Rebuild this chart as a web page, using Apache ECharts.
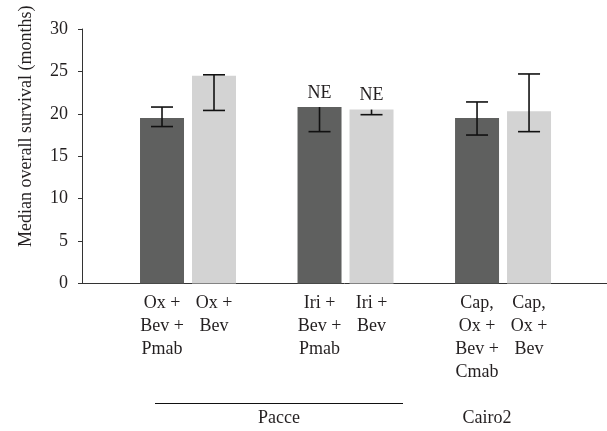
<!DOCTYPE html>
<html>
<head>
<meta charset="utf-8">
<script src="https://cdn.jsdelivr.net/npm/echarts@6/dist/echarts.min.js"></script>
<style>
html,body{margin:0;padding:0;background:#fff;}
#chart{width:607px;height:431px;}
</style>
</head>
<body>
<div id="chart"></div>
<script>
// ---- data ----
const pairIndex = [0, 1, 2];
const labelsA = ['Ox +\nBev +\nPmab', 'Iri +\nBev +\nPmab', 'Cap,\nOx +\nBev +\nCmab'];
const labelsB = ['Ox +\nBev', 'Iri +\nBev', 'Cap,\nOx +\nBev'];
const medianA = [19.5, 20.8, 19.5];
const medianB = [24.5, 20.5, 20.3];
const lowerA = [18.5, 17.9, 17.5];
const upperA = [20.8, null, 21.4];
const lowerB = [20.4, 19.9, 17.9];
const upperB = [24.6, null, 24.7];
const notEstimableText = 'NE';
const groupNames = ['Pacce', 'Cairo2'];
const yAxisTitle = 'Median overall survival (months)';

// ---- style ----
const FONT = 'Liberation Serif';
const FS = 18;
const TXT = '#231f20';
const DARK = '#5f605f';
const LIGHT = '#d3d3d3';
const BAR_W = 44;
const GAP_PX = 8;

function errSeries(lower, upper, median, sign) {
  return {
    type: 'custom',
    z: 5,
    clip: false,
    data: pairIndex.map((x, i) => [x, lower[i], upper[i] == null ? '-' : upper[i], median[i]]),
    encode: { x: 0, y: [1, 2] },
    renderItem: function (params, api) {
      const x = api.value(0);
      const lo = api.value(1);
      const hi = api.value(2);
      const med = api.value(3);
      const off = sign * (BAR_W + GAP_PX) / 2;
      const pLo = api.coord([x, lo]);
      const cx = pLo[0] + off;
      const hasHi = !(hi == null || isNaN(hi));
      const yTop = hasHi ? api.coord([x, hi])[1] : api.coord([x, med])[1];
      const cap = 11;
      const st = { stroke: '#111', lineWidth: 1.6 };
      const children = [
        { type: 'line', shape: { x1: cx, y1: yTop, x2: cx, y2: pLo[1] }, style: st },
        { type: 'line', shape: { x1: cx - cap, y1: pLo[1], x2: cx + cap, y2: pLo[1] }, style: st }
      ];
      if (hasHi) {
        children.push({ type: 'line', shape: { x1: cx - cap, y1: yTop, x2: cx + cap, y2: yTop }, style: st });
      } else {
        children.push({ type: 'text', style: { text: notEstimableText, x: cx, y: yTop - 5, align: 'center', verticalAlign: 'bottom', font: FS + 'px ' + FONT, fill: TXT } });
      }
      return { type: 'group', children: children };
    }
  };
}

const chart = echarts.init(document.getElementById('chart'));
chart.setOption({
  animation: false,
  backgroundColor: '#fff',
  grid: { left: 82, right: 0, top: 29, bottom: 147.5, containLabel: false },
  xAxis: {
    type: 'value', min: -0.673, max: 2.66,
    axisLine: { show: true, onZero: false, lineStyle: { color: '#333', width: 1 } },
    axisTick: { show: false }, axisLabel: { show: false }, splitLine: { show: false }
  },
  yAxis: {
    type: 'value', min: 0, max: 30, interval: 5,
    name: yAxisTitle, nameLocation: 'middle', nameRotate: 90, nameGap: 47,
    nameTextStyle: { fontFamily: FONT, fontSize: FS, color: TXT, padding: [0, 0, 0, 60] },
    axisLine: { show: true, onZero: false, lineStyle: { color: '#333', width: 1 } },
    axisTick: { show: true, length: 4, lineStyle: { color: '#333' } },
    axisLabel: { fontFamily: FONT, fontSize: FS, color: TXT, margin: 14 },
    splitLine: { show: false }
  },
  series: [
    {
      type: 'bar', barWidth: BAR_W, barGap: (GAP_PX / BAR_W * 100) + '%',
      itemStyle: { color: DARK },
      data: pairIndex.map((x, i) => [x, medianA[i]]),
      label: { show: true, position: 'bottom', distance: 8, formatter: p => labelsA[p.dataIndex],
        fontFamily: FONT, fontSize: FS, lineHeight: 23, color: TXT, align: 'center' }
    },
    {
      type: 'bar', barWidth: BAR_W, barGap: (GAP_PX / BAR_W * 100) + '%',
      itemStyle: { color: LIGHT },
      data: pairIndex.map((x, i) => [x, medianB[i]]),
      label: { show: true, position: 'bottom', distance: 8, formatter: p => labelsB[p.dataIndex],
        fontFamily: FONT, fontSize: FS, lineHeight: 23, color: TXT, align: 'center' }
    },
    errSeries(lowerA, upperA, medianA, -1),
    errSeries(lowerB, upperB, medianB, 1)
  ],
  graphic: [
    { type: 'line', shape: { x1: 155, y1: 403.5, x2: 403, y2: 403.5 }, style: { stroke: '#111', lineWidth: 1.2 } },
    { type: 'text', x: 279, y: 418, style: { text: groupNames[0], align: 'center', verticalAlign: 'middle', font: FS + 'px ' + FONT, fill: TXT } },
    { type: 'text', x: 487, y: 418, style: { text: groupNames[1], align: 'center', verticalAlign: 'middle', font: FS + 'px ' + FONT, fill: TXT } }
  ]
});
</script>
</body>
</html>
